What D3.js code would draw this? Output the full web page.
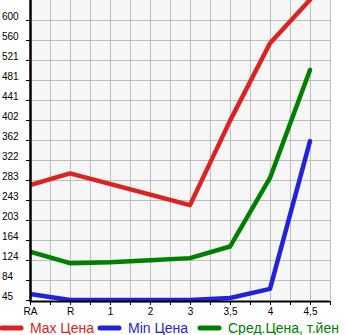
<!DOCTYPE html>
<html><head><meta charset="utf-8">
<script src="https://cdn.jsdelivr.net/npm/d3@7"></script>
<style>html,body{margin:0;padding:0;background:#fff;}svg{display:block;}</style>
</head><body>
<script>
const categories = ["RA","R","1","2","3","3,5","4","4,5"];
const maxPrice = [273, 296, null, null, 233, 400, 554, 640];
const minPrice = [57, 45, 45, 45, 45, 49, 67, 360];
const avgPrice = [141, 118, 120, 124, 128, 151, 287, 501];
const yTickLabels = ["45","84","124","164","203","243","283","322","362","402","441","481","521","560","600"];
const seriesNames = ["Max Цена","Min Цена","Сред.Цена, т.йен"];
const seriesColors = ["#dd2222","#2222dd","#008000"];

(function () {
const W = 345, H = 335;
const pL = 30, pR = 330, pT = 0, pB = 300;
const yMin = 45, yStep = (600 - 45) / 14;
const svg = d3.select("body").append("svg").attr("width", W).attr("height", H)
  .style("font-family", "'Liberation Sans', Arial, sans-serif");

const x = d3.scaleLinear().domain([0, categories.length - 0.5]).range([pL, pR]);
const y = d3.scaleLinear().domain([yMin, yMin + yStep * 15]).range([pB, pT]);

svg.append("rect").attr("x", pL).attr("y", pT).attr("width", pR - pL).attr("height", pB - pT).attr("fill", "#f6f6f6");

const gridX = d3.range(1, categories.length * 2).map(d => d / 2);
svg.append("g").selectAll("line").data(gridX).join("line")
  .attr("x1", d => Math.round(x(d)) + 0.5).attr("x2", d => Math.round(x(d)) + 0.5)
  .attr("y1", pT).attr("y2", pB).attr("stroke", "#bdbdbd").attr("stroke-width", 1);
const gridY = yTickLabels.map((t, i) => yMin + i * yStep).slice(1);
svg.append("g").selectAll("line").data(gridY).join("line")
  .attr("x1", pL).attr("x2", pR)
  .attr("y1", d => Math.round(y(d)) + 0.5).attr("y2", d => Math.round(y(d)) + 0.5)
  .attr("stroke", "#bdbdbd").attr("stroke-width", 1);

svg.append("clipPath").attr("id", "clip").append("rect")
  .attr("x", pL).attr("y", pT).attr("width", pR - pL + 5).attr("height", pB - pT + 5);

const series = [maxPrice, minPrice, avgPrice];
series.forEach((vals, si) => {
  const pts = vals.map((v, i) => [i, v]).filter(p => p[1] !== null);
  const line = d3.line().x(p => x(p[0])).y(p => y(p[1]));
  svg.append("path").attr("d", line(pts)).attr("fill", "none")
    .attr("stroke", seriesColors[si]).attr("stroke-width", 4.5)
    .attr("stroke-linejoin", "round").attr("stroke-linecap", "round")
    .attr("clip-path", "url(#clip)");
});

// Y axis
const yAxis = d3.axisLeft(y).tickValues(yTickLabels.map((t, i) => yMin + i * yStep))
  .tickFormat((d, i) => yTickLabels[i]).tickSize(4).tickSizeOuter(0);
const gy = svg.append("g").attr("transform", `translate(${pL},0)`).call(yAxis);
gy.select(".domain").remove();
gy.selectAll(".tick line").attr("stroke", "#000");
gy.selectAll(".tick text").attr("text-anchor", "start").attr("x", -pL + 2).attr("dy", "-0.05em")
  .attr("fill", "#000").style("font-size", "10px").style("font-family", "'Liberation Sans', Arial, sans-serif");
svg.append("line").attr("x1", pL + 0.5).attr("x2", pL + 0.5).attr("y1", pT).attr("y2", pB + 2)
  .attr("stroke", "#000").attr("stroke-width", 2.5);

// X axis
const xAxis = d3.axisBottom(x).tickValues([0].concat(gridX))
  .tickFormat(d => Number.isInteger(d) ? categories[d] : "").tickSize(4).tickSizeOuter(0);
const gx = svg.append("g").attr("transform", `translate(0,${pB + 1})`).call(xAxis);
gx.select(".domain").remove();
gx.selectAll(".tick line").attr("stroke", "#000");
gx.selectAll(".tick text").attr("y", 7).attr("fill", "#000").style("font-size", "10px")
  .style("font-family", "'Liberation Sans', Arial, sans-serif");
svg.append("line").attr("x1", pL).attr("x2", pR).attr("y1", pB + 1.5).attr("y2", pB + 1.5)
  .attr("stroke", "#000").attr("stroke-width", 2);

// Legend
const legendX = [0, 98, 198];
const lg = svg.append("g");
seriesNames.forEach((name, i) => {
  lg.append("line").attr("x1", legendX[i] + 2).attr("x2", legendX[i] + 21).attr("y1", 328).attr("y2", 328)
    .attr("stroke", seriesColors[i]).attr("stroke-width", 5).attr("stroke-linecap", "round");
  lg.append("text").attr("x", legendX[i] + 30).attr("y", 333).attr("fill", seriesColors[i])
    .style("font-size", "14px").text(name);
});
})();
</script>
</body></html>
